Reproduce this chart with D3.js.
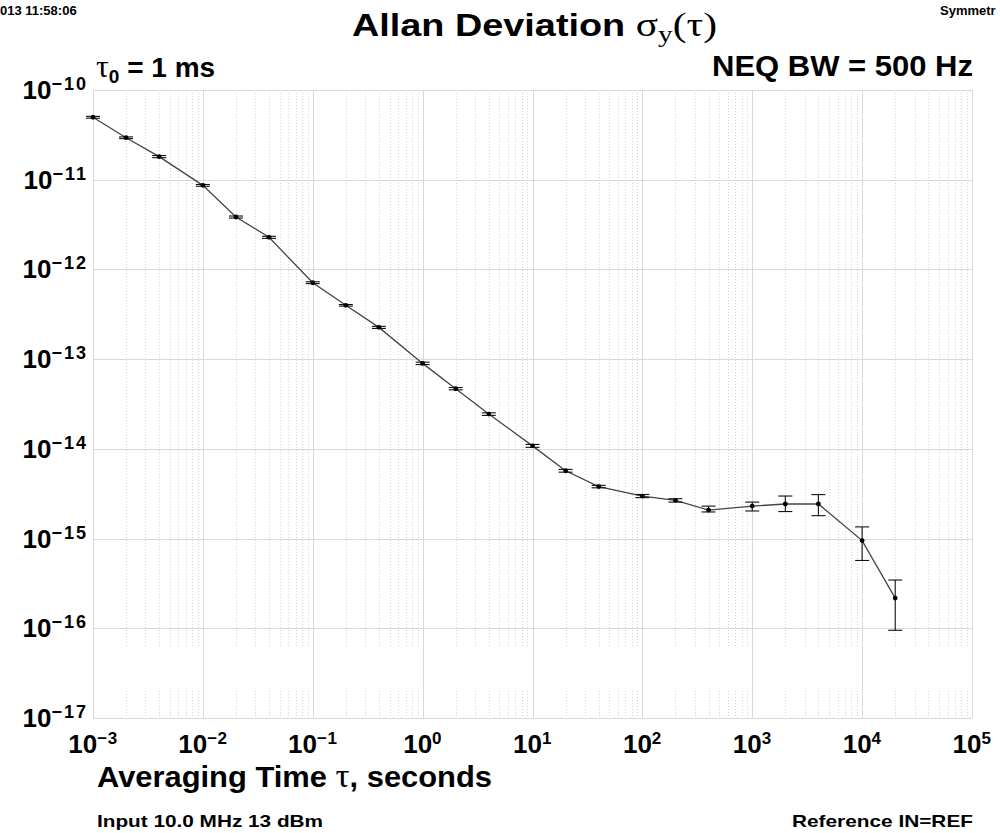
<!DOCTYPE html>
<html>
<head>
<meta charset="utf-8">
<script src="https://cdn.jsdelivr.net/npm/d3@7"></script>
<style>
  body { margin: 0; background: #fff; }
  text { font-family: "Liberation Sans", Arial, sans-serif; font-weight: bold; fill: #000; }
  .greek { font-family: "Liberation Serif", "DejaVu Serif", serif; font-weight: normal; }
</style>
</head>
<body>
<script>
// averaging times (s) and Allan deviation
const tau = [1e-3, 2e-3, 4e-3, 1e-2, 2e-2, 4e-2, 0.1, 0.2, 0.4, 1, 2, 4,
             10, 20, 40, 100, 200, 400, 1e3, 2e3, 4e3, 1e4, 2e4];
const adev = [4.97e-11, 2.94e-11, 1.81e-11, 8.65e-12, 3.84e-12, 2.28e-12, 7.1e-13, 3.98e-13, 2.26e-13,
              8.97e-14, 4.68e-14, 2.44e-14, 1.08e-14, 5.7e-15, 3.8e-15, 2.98e-15, 2.67e-15, 2.08e-15,
              2.3e-15, 2.43e-15, 2.43e-15, 9.5e-16, 2.17e-16];
const adevLo = [4.85e-11, 2.87e-11, 1.76e-11, 8.45e-12, 3.74e-12, 2.22e-12, 6.95e-13, 3.9e-13, 2.2e-13,
                8.7e-14, 4.55e-14, 2.36e-14, 1.04e-14, 5.5e-15, 3.68e-15, 2.86e-15, 2.55e-15, 1.98e-15,
                2.03e-15, 2.0e-15, 1.8e-15, 5.7e-16, 9.5e-17];
const adevHi = [5.08e-11, 3.0e-11, 1.86e-11, 8.85e-12, 3.94e-12, 2.34e-12, 7.28e-13, 4.06e-13, 2.32e-13,
                9.25e-14, 4.82e-14, 2.52e-14, 1.12e-14, 5.9e-15, 3.92e-15, 3.1e-15, 2.78e-15, 2.3e-15,
                2.55e-15, 2.98e-15, 3.09e-15, 1.35e-15, 3.45e-16];

const xTickExps = [-3, -2, -1, 0, 1, 2, 3, 4, 5];
const yTickExps = [-10, -11, -12, -13, -14, -15, -16, -17];
// the dotted minor lines are broken over this band near the bottom
const minorGridGap = [6.2e-17, 2.0e-17];

const width = 1000, height = 833;
const plot = { left: 93, right: 972, top: 90, bottom: 718 };

const svg = d3.select("body").append("svg")
    .attr("width", width)
    .attr("height", height);

const x = d3.scaleLog().domain([1e-3, 1e5]).range([plot.left, plot.right]);
const y = d3.scaleLog().domain([1e-17, 1e-10]).range([plot.bottom, plot.top]);

// minor vertical grid (dotted)
const minor = x.ticks().filter(v => Math.abs(Math.log10(v) - Math.round(Math.log10(v))) > 1e-6);
const minorSegs = [[1e-10, minorGridGap[0]], [minorGridGap[1], 1e-17]];
minorSegs.forEach(seg => {
  svg.append("g").selectAll("line")
    .data(minor)
    .join("line")
      .attr("x1", d => Math.round(x(d)) + 0.5).attr("x2", d => Math.round(x(d)) + 0.5)
      .attr("y1", y(seg[0])).attr("y2", y(seg[1]))
      .attr("stroke", "#d4d4d4")
      .attr("stroke-width", 1)
      .attr("stroke-dasharray", "1,2");
});

// major grid
svg.append("g").selectAll("line")
  .data(xTickExps)
  .join("line")
    .attr("x1", d => Math.round(x(Math.pow(10, d))) + 0.5).attr("x2", d => Math.round(x(Math.pow(10, d))) + 0.5)
    .attr("y1", plot.top).attr("y2", plot.bottom)
    .attr("stroke", "#d9d9d9");
svg.append("g").selectAll("line")
  .data(yTickExps)
  .join("line")
    .attr("x1", plot.left).attr("x2", plot.right)
    .attr("y1", d => Math.round(y(Math.pow(10, d))) + 0.5).attr("y2", d => Math.round(y(Math.pow(10, d))) + 0.5)
    .attr("stroke", "#d9d9d9");

function powerLabel(t, exp, big, small, rise, spacing) {
  t.append("tspan").attr("font-size", big).text("10");
  t.append("tspan").attr("font-size", small).attr("dy", -rise)
    .attr("letter-spacing", spacing)
    .text(exp < 0 ? "\u2212" + (-exp) : String(exp));
}

// x tick labels
svg.append("g").selectAll("text")
  .data(xTickExps)
  .join("text")
    .attr("x", d => x(Math.pow(10, d)))
    .attr("y", plot.bottom + 35)
    .attr("text-anchor", "middle")
    .each(function(d) { powerLabel(d3.select(this), d, 26, 17, 9, 0.5); });

// y tick labels
svg.append("g").selectAll("text")
  .data(yTickExps)
  .join("text")
    .attr("x", plot.left - 5)
    .attr("y", d => y(Math.pow(10, d)) + 9)
    .attr("text-anchor", "end")
    .each(function(d) { powerLabel(d3.select(this), d, 26, 18, 9, 2); });

// data line
const pts = tau.map((t, i) => ({ t, v: adev[i], lo: adevLo[i], hi: adevHi[i] }));
svg.append("path")
  .datum(pts)
  .attr("fill", "none")
  .attr("stroke", "#444")
  .attr("stroke-width", 1.3)
  .attr("d", d3.line().x(d => x(d.t)).y(d => y(d.v)));

// error bars
const cap = 7;
const eb = svg.append("g").attr("stroke", "#111").attr("stroke-width", 1.1);
eb.selectAll(".stem").data(pts).join("line").attr("class", "stem")
  .attr("x1", d => x(d.t)).attr("x2", d => x(d.t))
  .attr("y1", d => y(d.lo)).attr("y2", d => y(d.hi));
eb.selectAll(".capLo").data(pts).join("line").attr("class", "capLo")
  .attr("x1", d => x(d.t) - cap).attr("x2", d => x(d.t) + cap)
  .attr("y1", d => y(d.lo)).attr("y2", d => y(d.lo));
eb.selectAll(".capHi").data(pts).join("line").attr("class", "capHi")
  .attr("x1", d => x(d.t) - cap).attr("x2", d => x(d.t) + cap)
  .attr("y1", d => y(d.hi)).attr("y2", d => y(d.hi));

svg.append("g").selectAll("circle")
  .data(pts)
  .join("circle")
    .attr("cx", d => x(d.t))
    .attr("cy", d => y(d.v))
    .attr("r", 2.4)
    .attr("fill", "#000");

// header texts
svg.append("text").attr("x", 0).attr("y", 15).attr("font-size", 13).text("013 11:58:06");
svg.append("text").attr("x", 940).attr("y", 15).attr("font-size", 13).text("Symmetr");

const title = svg.append("text")
  .attr("x", 352).attr("y", 36)
  .attr("font-size", 31)
  .attr("textLength", 365)
  .attr("lengthAdjust", "spacingAndGlyphs");
title.append("tspan").text("Allan Deviation ");
title.append("tspan").attr("class", "greek").attr("font-size", 34).text("\u03c3");
title.append("tspan").attr("class", "greek").attr("font-size", 24).attr("dy", 6).text("y");
title.append("tspan").attr("class", "greek").attr("font-size", 34).attr("dy", -6).text("(\u03c4)");

const tau0 = svg.append("text").attr("x", 96).attr("y", 77).attr("font-size", 28);
tau0.append("tspan").attr("class", "greek").attr("font-size", 32).text("\u03c4");
tau0.append("tspan").attr("font-size", 19).attr("dy", 6).text("0");
tau0.append("tspan").attr("dy", -6).text(" = 1 ms");

svg.append("text")
  .attr("x", 712).attr("y", 76)
  .attr("font-size", 29)
  .attr("textLength", 261)
  .attr("lengthAdjust", "spacingAndGlyphs")
  .text("NEQ BW = 500 Hz");

// footer texts
const xt = svg.append("text")
  .attr("x", 97).attr("y", 787)
  .attr("font-size", 30)
  .attr("textLength", 395)
  .attr("lengthAdjust", "spacingAndGlyphs");
xt.append("tspan").text("Averaging Time ");
xt.append("tspan").attr("class", "greek").attr("font-size", 34).text("\u03c4");
xt.append("tspan").text(", seconds");

svg.append("text")
  .attr("x", 97).attr("y", 827)
  .attr("font-size", 17)
  .attr("textLength", 226)
  .attr("lengthAdjust", "spacingAndGlyphs")
  .text("Input 10.0 MHz 13 dBm");

svg.append("text")
  .attr("x", 792).attr("y", 827)
  .attr("font-size", 17)
  .attr("textLength", 181)
  .attr("lengthAdjust", "spacingAndGlyphs")
  .text("Reference IN=REF");
</script>
</body>
</html>
